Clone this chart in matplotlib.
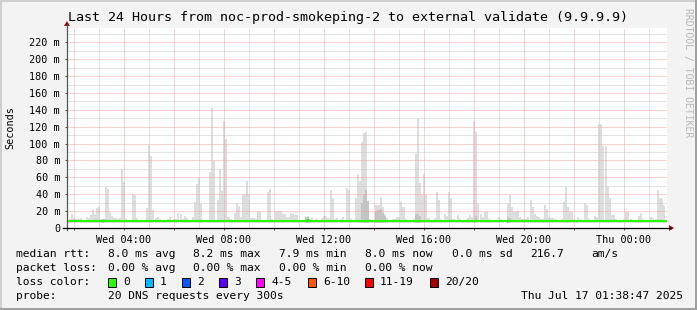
import matplotlib
matplotlib.use('Agg')
import matplotlib.pyplot as plt
from matplotlib.ticker import FuncFormatter
from matplotlib.patches import Rectangle, Polygon
from matplotlib.lines import Line2D
import numpy as np

plt.rcParams['font.family'] = 'DejaVu Sans Mono'

# ---- data (ms) ----
t_start = 1.72            # hours after Wed 00:00 at left edge
step_h = 5 / 60           # 300 s steps

smoke_max = (
    [10, 11, 16.6, 11.5, 10.7, 11, 12.3, 9.5, 9.5, 13.5, 11.5, 15.8, 21.6, 16.6, 23.2, 25.2,
     10.7, 9.5, 49, 46.2, 18.5, 14.6, 12.3, 11.5, 10.7, 11.5, 69.6, 54.8, 10.7, 8.6, 8.6, 40.8,
     39.2, 12, 8, 10, 8.6, 8, 23.2, 98.5, 84.8, 21.6, 11.5, 12.7, 10.7, 8.6, 9.5, 9]
    + [11, 13.5, 9, 10.5, 11, 17.4, 16.6, 11, 14.2, 11.5, 9.5, 8.6, 12.7, 31, 51.7, 58.7,
       29, 8.6, 8.6, 9.5, 66.1, 142, 79.8, 9.5, 33.5, 70.4, 43.9, 126.6, 105.5, 12.7, 10.5, 8.6,
       17.4, 29.4, 26.3, 12.7, 40, 39.2, 55.6, 40, 11.5, 12, 10.7, 19.7, 19.3, 9.5, 8.6, 8.6]
    + [43, 46.2, 10.7, 9.5, 20.5, 19.7, 19.7, 16.6, 16.6, 13, 12.5, 17.4, 16, 15, 15, 9.5,
       9.5, 9.5, 12.5, 14.6, 10.7, 11.5, 9.5, 10.7, 9.5, 9, 11.5, 14.6, 14.6, 11.5, 45.4, 36,
       10.7, 11.5, 9.5, 10.7, 12.7, 9.5, 47.8, 45.4, 10.7, 9.5, 36, 64, 56, 102, 112, 114]
    + [32, 10.7, 10, 9.5, 27.5, 27.5, 36.9, 24.4, 16.6, 11.5, 9.5, 9.5, 10.7, 10.7, 12.5, 13.5,
       31, 25.2, 10.7, 9.5, 9.5, 9.5, 10.7, 87.6, 128.9, 53.6, 39.2, 64.2, 39.2, 11.5, 9.5, 9,
       11.5, 42.7, 33, 10.7, 9.5, 16.6, 14.6, 42.7, 36, 10.7, 9.5, 15.8, 10.7, 9.5, 9.5, 9.5]
    + [11.5, 15.4, 12.7, 126.6, 113.3, 29, 16.6, 13.5, 19.3, 19.3, 10.7, 8.6, 8.6, 8.6, 8.6, 13.5,
       10.7, 8.6, 8.6, 29, 39.2, 24.4, 18.5, 18.5, 19.7, 12.7, 10.7, 10.7, 10.7, 12.7, 33.5, 25.2,
       16.6, 14.6, 12.7, 10.7, 10.7, 27.5, 22.8, 13.5, 12, 11.5, 10.7, 9.5, 9.5, 10.7, 31, 48.6]
    + [25.2, 19.7, 19.3, 10.7, 9.5, 13.5, 10.7, 9.5, 29.4, 27.1, 10.7, 9.5, 9.5, 14.6, 13.5, 123.8,
       123.8, 97.7, 97.7, 49, 36, 15.8, 15.8, 10.7, 9.5, 9.5, 9.5, 10.7, 19.3, 19.3, 10.7, 9.5,
       9.5, 9.5, 14.6, 17.4, 10.7, 9.5, 9.5, 9.5, 12.7, 12, 10.7, 45, 36, 35.3, 27.1, 10]
)

# darker smoke (lower pings) where it is visible
dark_steps = [17, 114, 115, 141, 142, 143, 144, 148, 149, 150, 151, 152, 167, 168, 169, 196, 211, 212]
dark_tops = [11, 13, 13, 30, 40, 45, 32, 20, 21, 23, 18, 14, 16, 17, 14, 14, 13, 12]

median_ms = [8.0] * 115 + [9.0] + [8.0] * 172

y_ticks = [0, 20, 40, 60, 80, 100, 120, 140, 160, 180, 200, 220]
x_tick_hours = [4, 8, 12, 16, 20, 24]
x_tick_labels = ['Wed 04:00', 'Wed 08:00', 'Wed 12:00', 'Wed 16:00', 'Wed 20:00', 'Thu 00:00']

loss_labels = ['0', '1', '2', '3', '4-5', '6-10', '11-19', '20/20']
loss_colors = ['#26ff00', '#00b8ff', '#0059ff', '#5e00ff', '#ff00ff', '#ff5500', '#ff0000', '#a10000']
loss_box_x = [108, 145, 182, 219, 256, 308, 365, 430]

rtt_stats = ['8.0 ms avg', '8.2 ms max', '7.9 ms min', '8.0 ms now', '0.0 ms sd', '216.7', 'am/s']
rtt_x = [108, 193, 279, 365, 452, 530, 591]
loss_stats = ['0.00 % avg', '0.00 % max', '0.00 % min', '0.00 % now']
loss_x = [108, 193, 279, 365]

W, H = 697, 310
fig = plt.figure(figsize=(W / 100, H / 100), dpi=100, facecolor='#f3f3f3')

# plot area in pixels: x 67..667, y 28..228
L, R, T, B = 67, 667, 28, 228
ax = fig.add_axes([L / W, 1 - B / H, (R - L) / W, (B - T) / H])
ax.set_facecolor('white')

n = len(smoke_max)
x = t_start + np.arange(n) * step_h
smax = np.array(smoke_max)
ax.bar(x, smax - 6, bottom=6, width=step_h, align='edge', color='#dddddd', linewidth=0, zorder=1)
dx = t_start + np.array(dark_steps) * step_h
ax.bar(dx, np.array(dark_tops) - 6, bottom=6, width=step_h, align='edge', color='#c4c4c4',
       linewidth=0, zorder=1.5)

# grid (dotted)
grid_kw = dict(lw=0.72, ls=(0, (1, 1)), zorder=3)
hour_lo = int(np.ceil(t_start))
for h in range(hour_lo, 26):
    ax.axvline(h, color='#f4a4a4' if h % 2 == 0 else '#c8c8c8', **grid_kw)
for v in range(10, 240, 10):
    ax.axhline(v, color='#f4a4a4' if v % 20 == 0 else '#c8c8c8', **grid_kw)

xm = np.append(x, x[-1] + step_h)
ym = np.append(median_ms, median_ms[-1])
ax.step(xm, ym, where='post', color='#26ff00', lw=1.5, zorder=4)

ax.set_xlim(t_start, t_start + 24)
ax.set_ylim(0, 237)
ax.set_yticks(y_ticks)
ax.yaxis.set_major_formatter(FuncFormatter(lambda v, p: '0' if v == 0 else f'{v:.0f} m'))
ax.set_xticks(x_tick_hours)
ax.set_xticklabels(x_tick_labels)
ax.set_xticks(list(range(2, 26, 2)), minor=True)
ax.tick_params(axis='both', which='major', labelsize=7.3, length=1.5, width=0.7, color='#444444')
ax.tick_params(axis='y', pad=3.5)
ax.tick_params(axis='x', pad=3.2)
ax.tick_params(axis='x', which='minor', length=1.5, width=0.7, color='#444444')
for s in ax.spines.values():
    s.set_visible(False)

# overlay in pixel coordinates
ov = fig.add_axes([0, 0, 1, 1], facecolor='none')
ov.set_xlim(0, W)
ov.set_ylim(H, 0)
ov.axis('off')

# axes lines with arrows
ov.add_line(Line2D([L, L], [B + 2, T - 3], color='#555555', lw=0.9))
ov.add_line(Line2D([L - 4, R + 4], [B, B], color='black', lw=0.9))
ov.add_patch(Polygon([[L - 3, T - 2], [L + 3, T - 2], [L, T - 7]], closed=True, color='#9a1010', lw=0))
ov.add_patch(Polygon([[R + 2, B - 3], [R + 2, B + 3], [R + 7, B]], closed=True, color='#9a1010', lw=0))

# frame shading
ov.add_line(Line2D([0.5, W - 0.5], [0.5, 0.5], color='#cfcfcf', lw=1.4))
ov.add_line(Line2D([0.5, 0.5], [0.5, H - 0.5], color='#cfcfcf', lw=1.4))
ov.add_line(Line2D([0.5, W - 0.5], [H - 0.8, H - 0.8], color='#9e9e9e', lw=1.4))
ov.add_line(Line2D([W - 0.8, W - 0.8], [0.5, H - 0.5], color='#9e9e9e', lw=1.4))

ov.text(W / 2, 18, 'Last 24 Hours from noc-prod-smokeping-2 to external validate (9.9.9.9)',
        ha='center', va='center', fontsize=9.6)
ov.text(10, 128, 'Seconds', rotation=90, ha='center', va='center', fontsize=7.3)
ov.text(688, 8, 'RRDTOOL / TOBI OETIKER', rotation=270, ha='center', va='top',
        fontsize=7.0, color='#b8b8b8')

fs = 8.1
ov.text(16, 254, 'median rtt:', va='center', fontsize=fs)
for s, xx in zip(rtt_stats, rtt_x):
    ov.text(xx, 254, s, va='center', fontsize=fs)
ov.text(16, 268, 'packet loss:', va='center', fontsize=fs)
for s, xx in zip(loss_stats, loss_x):
    ov.text(xx, 268, s, va='center', fontsize=fs)
ov.text(16, 282, 'loss color:', va='center', fontsize=fs)
for lab, col, xx in zip(loss_labels, loss_colors, loss_box_x):
    ov.add_patch(Rectangle((xx, 277.5), 8, 9, facecolor=col, edgecolor='black', lw=0.7))
    ov.text(xx + 15, 282, lab, va='center', fontsize=fs)
ov.text(16, 296, 'probe:', va='center', fontsize=fs)
ov.text(108, 296, '20 DNS requests every 300s', va='center', fontsize=fs)
ov.text(683, 296, 'Thu Jul 17 01:38:47 2025', va='center', ha='right', fontsize=fs)

fig.savefig('out.png', dpi=100, facecolor=fig.get_facecolor())
